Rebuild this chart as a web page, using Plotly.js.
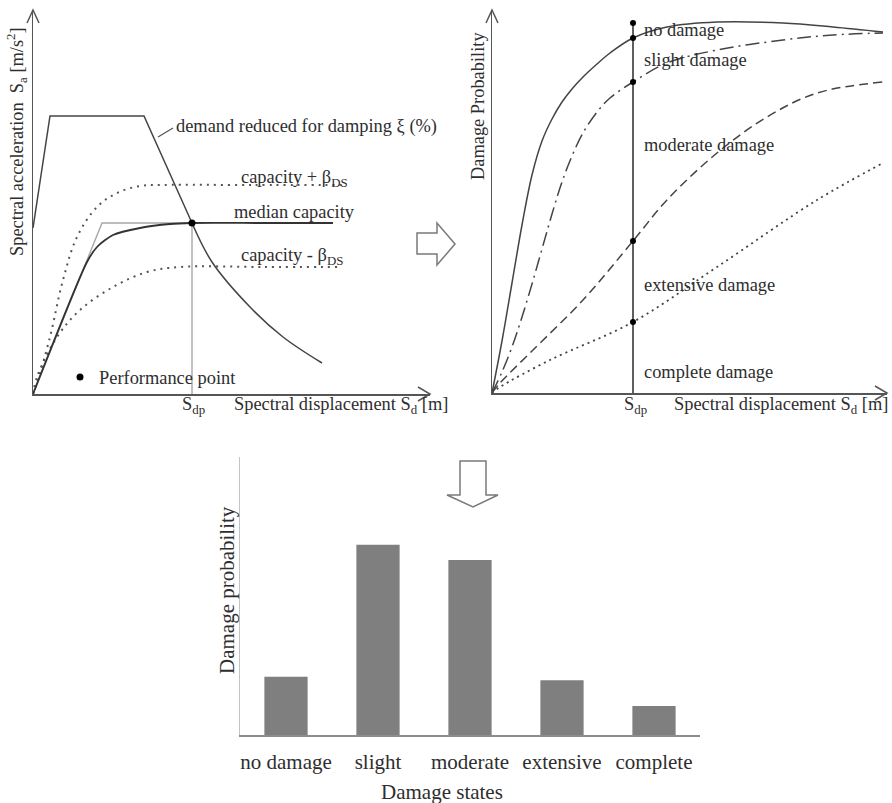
<!DOCTYPE html>
<html>
<head>
<meta charset="utf-8">
<script src="https://cdn.plot.ly/plotly-3.0.1.min.js"></script>
<style>html,body{margin:0;padding:0;background:#fff;}#chart{width:892px;height:803px;}</style>
</head>
<body>
<div id="chart"></div>
<script>
// ---------- DATA (arbitrary units, measured from the origin of each panel) ----------
// Panel 1: capacity spectrum method
const demandPlateauSd = [0, 17, 111, 159];
const demandPlateauSa = [166, 278, 278, 171];
const demandTailSd = [159, 179, 217, 250, 289];
const demandTailSa = [171, 132, 87, 57, 31];
const medianSd = [0, 54, 64, 80, 107, 137, 159, 230, 300];
const medianSa = [0, 132, 147, 159, 166, 170, 171, 171, 171];
const bilinearSd = [0, 69, 159];
const bilinearSa = [0, 171, 171];
const capPlusSd = [0, 4, 17, 30, 44, 64, 84, 107, 130, 220, 312];
const capPlusSa = [0, 11, 57, 114, 157, 187, 201, 208, 209, 209, 209];
const capMinusSd = [0, 4, 24, 47, 80, 114, 147, 230, 307];
const capMinusSa = [0, 17, 57, 84, 107, 122, 127, 127, 127];
const perfSd = 159, perfSa = 171;
const legendDotSd = 47, legendDotSa = 17;

// Panel 2: fragility curves
const slightSd = [0, 10, 20, 30, 40, 50, 60, 70, 80, 91, 105, 118, 141, 175, 225, 291, 341, 391];
const slightP = [0, 52, 110, 168, 218, 252, 274, 291, 304, 316, 329, 340, 355, 366, 371, 370, 366, 361];
const moderateSd = [0, 10, 20, 30, 40, 50, 60, 70, 80, 91, 105, 118, 141, 175, 225, 291, 341, 391];
const moderateP = [0, 21, 46, 76, 109, 144, 179, 211, 237, 260, 281, 295, 311, 330, 343, 353, 358, 360];
const extensiveSd = [0, 8, 41, 91, 141, 175, 225, 275, 325, 391];
const extensiveP = [0, 10, 43, 93, 152, 193, 240, 276, 300, 311];
const completeSd = [0, 8, 58, 141, 225, 325, 391];
const completeP = [0, 6, 33, 71, 126, 193, 230];
const sdp = 141;
const sdpTop = 370;
const sdpPoints = [370, 355, 311, 152, 71];

// Panel 3: damage state probabilities
const damageStates = ['no damage', 'slight', 'moderate', 'extensive', 'complete'];
const damageProb = [0.115, 0.375, 0.345, 0.108, 0.057];

// ---------- LAYOUT HELPERS ----------
const W = 892, H = 803;
const px = x => x / W;
const py = y => 1 - y / H;
const FONT = 'Liberation Serif, Times New Roman, serif';
const TXT = '#2e2e2e';
const LINE = '#444444';
const FS = 18.4;
const FSB = 21;

function pathPx(pts, close) {
  return pts.map((p, i) => (i ? 'L' : 'M') + px(p[0]).toFixed(5) + ',' + py(p[1]).toFixed(5)).join(' ') + (close ? ' Z' : '');
}

const traces = [
  // ---- panel 1 ----
  {x: bilinearSd, y: bilinearSa, xaxis: 'x', yaxis: 'y', mode: 'lines', line: {color: '#a8a8a8', width: 1.4}},
  {x: [perfSd, perfSd], y: [0, perfSa], xaxis: 'x', yaxis: 'y', mode: 'lines', line: {color: '#a0a0a0', width: 1.3}},
  {x: capPlusSd, y: capPlusSa, xaxis: 'x', yaxis: 'y', mode: 'lines', line: {color: '#555', width: 2, dash: '2px,5px', shape: 'spline'}},
  {x: capMinusSd, y: capMinusSa, xaxis: 'x', yaxis: 'y', mode: 'lines', line: {color: '#555', width: 2, dash: '2px,5px', shape: 'spline'}},
  {x: medianSd, y: medianSa, xaxis: 'x', yaxis: 'y', mode: 'lines', line: {color: '#333', width: 1.8, shape: 'spline', smoothing: 0.7}},
  {x: demandPlateauSd, y: demandPlateauSa, xaxis: 'x', yaxis: 'y', mode: 'lines', line: {color: LINE, width: 1.5}},
  {x: demandTailSd, y: demandTailSa, xaxis: 'x', yaxis: 'y', mode: 'lines', line: {color: LINE, width: 1.5, shape: 'spline'}},
  {x: [perfSd, legendDotSd], y: [perfSa, legendDotSa], xaxis: 'x', yaxis: 'y', mode: 'markers', marker: {color: '#000', size: 7}, cliponaxis: false},
  // ---- panel 2 ----
  {x: slightSd, y: slightP, xaxis: 'x2', yaxis: 'y2', mode: 'lines', line: {color: LINE, width: 1.5, shape: 'spline'}},
  {x: moderateSd, y: moderateP, xaxis: 'x2', yaxis: 'y2', mode: 'lines', line: {color: LINE, width: 1.5, dash: '14px,5px,2px,5px', shape: 'spline'}},
  {x: extensiveSd, y: extensiveP, xaxis: 'x2', yaxis: 'y2', mode: 'lines', line: {color: LINE, width: 1.5, dash: '9px,5px', shape: 'spline'}},
  {x: completeSd, y: completeP, xaxis: 'x2', yaxis: 'y2', mode: 'lines', line: {color: LINE, width: 1.8, dash: '2px,4px', shape: 'spline'}},
  {x: [sdp, sdp], y: [0, sdpTop], xaxis: 'x2', yaxis: 'y2', mode: 'lines', line: {color: LINE, width: 1.7}},
  {x: sdpPoints.map(() => sdp), y: sdpPoints, xaxis: 'x2', yaxis: 'y2', mode: 'markers', marker: {color: '#000', size: 6}, cliponaxis: false},
  // ---- panel 3 ----
  {x: damageStates, y: damageProb, xaxis: 'x3', yaxis: 'y3', type: 'bar', width: 0.47, marker: {color: '#7f7f7f'}}
];

const hidden = {showgrid: false, zeroline: false, showticklabels: false, ticks: '', fixedrange: true};

const layout = {
  width: W, height: H,
  margin: {l: 0, r: 0, t: 0, b: 0},
  paper_bgcolor: '#fff', plot_bgcolor: 'rgba(0,0,0,0)',
  showlegend: false,
  font: {family: FONT, color: TXT, size: FS},
  xaxis: Object.assign({}, hidden, {domain: [px(33), px(430)], range: [0, 397], anchor: 'y', showline: true, linecolor: '#555', linewidth: 1.5}),
  yaxis: Object.assign({}, hidden, {domain: [py(394), py(10)], range: [0, 384], anchor: 'x', showline: true, linecolor: '#555', linewidth: 1.5}),
  xaxis2: Object.assign({}, hidden, {domain: [px(492), px(887)], range: [0, 395], anchor: 'y2', showline: true, linecolor: '#555', linewidth: 1.5}),
  yaxis2: Object.assign({}, hidden, {domain: [py(393), py(10)], range: [0, 383], anchor: 'x2', showline: true, linecolor: '#555', linewidth: 1.5}),
  xaxis3: {domain: [px(240), px(700)], anchor: 'y3', type: 'category', range: [-0.5, 4.5], showgrid: false, zeroline: false,
           showline: true, linecolor: '#8c8c8c', linewidth: 1.5, ticks: 'outside', ticklen: 7, tickcolor: 'rgba(0,0,0,0)',
           tickfont: {family: FONT, size: FSB, color: TXT}, fixedrange: true},
  yaxis3: Object.assign({}, hidden, {domain: [py(735), py(457)], range: [0, 0.548], anchor: 'x3', showline: true, linecolor: '#c4c4c4', linewidth: 1.5}),
  shapes: [],
  annotations: []
};

// axis arrowheads (open chevrons)
const chevrons = [
  [[27, 23], [33, 10], [39, 23]],
  [[418, 387], [430, 394], [418, 401]],
  [[486, 23], [492, 10], [498, 23]],
  [[875, 386], [887, 393], [875, 400]]
];
chevrons.forEach(c => layout.shapes.push({type: 'path', xref: 'paper', yref: 'paper', path: pathPx(c, false), line: {color: '#555', width: 1.5}}));
// leader line for demand label
layout.shapes.push({type: 'line', xref: 'paper', yref: 'paper', x0: px(158), y0: py(137), x1: px(173), y1: py(128), line: {color: '#555', width: 1.2}});
// block arrows
layout.shapes.push({type: 'path', xref: 'paper', yref: 'paper',
  path: pathPx([[417, 233], [437, 233], [437, 223], [455, 244], [437, 265], [437, 254], [417, 254]], true),
  line: {color: '#7a7a7a', width: 1.5}, fillcolor: '#fff'});
layout.shapes.push({type: 'path', xref: 'paper', yref: 'paper',
  path: pathPx([[460, 461], [486, 461], [486, 495], [498, 495], [473, 507], [447, 495], [460, 495]], true),
  line: {color: '#7a7a7a', width: 1.5}, fillcolor: '#fff'});

function txt(text, x, y, opts) {
  layout.annotations.push(Object.assign({
    text: text, xref: 'paper', yref: 'paper', x: px(x), y: py(y), showarrow: false,
    xanchor: 'left', yanchor: 'middle', font: {family: FONT, size: FS, color: TXT}
  }, opts || {}));
}

// panel 1 texts
txt('Spectral acceleration  S<sub>a</sub> [m/s<sup>2</sup>]', 17, 142, {xanchor: 'center', textangle: -90});
txt('demand reduced for damping ξ (%)', 174, 127);
txt('capacity + β<sub>DS</sub>', 239, 178);
txt('median capacity', 232, 212);
txt('capacity - β<sub>DS</sub>', 239, 257);
txt('Performance point', 97, 378);
txt('S<sub>dp</sub>', 193, 405, {xanchor: 'center'});
txt('Spectral displacement S<sub>d</sub> [m]', 232, 405);

// panel 2 texts
txt('Damage Probability', 478, 106, {xanchor: 'center', textangle: -90});
txt('no damage', 642, 30);
txt('slight damage', 642, 60);
txt('moderate damage', 642, 145);
txt('extensive damage', 642, 285);
txt('complete damage', 642, 372);
txt('S<sub>dp</sub>', 635, 405, {xanchor: 'center'});
txt('Spectral displacement S<sub>d</sub> [m]', 890, 405, {xanchor: 'right'});

// panel 3 texts
txt('Damage probability', 227, 590, {xanchor: 'center', textangle: -90, font: {family: FONT, size: FSB, color: TXT}});
txt('Damage states', 442, 792, {xanchor: 'center', font: {family: FONT, size: FSB, color: TXT}});

Plotly.newPlot('chart', traces, layout, {staticPlot: true, displayModeBar: false});
</script>
</body>
</html>
